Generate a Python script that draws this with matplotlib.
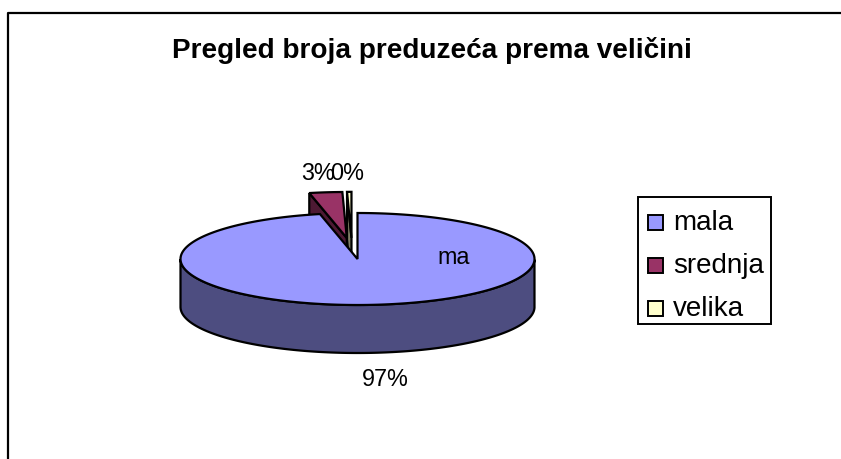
import numpy as np
import matplotlib
matplotlib.use('Agg')
import matplotlib.pyplot as plt
from matplotlib.patches import Polygon, Rectangle

plt.rcParams['font.family'] = ['Liberation Sans', 'DejaVu Sans']

categories = ['mala', 'srednja', 'velika']
shares = [96.6, 3.0, 0.4]
pct_labels = ['97%', '3%', '0%']
title = 'Pregled broja preduzeća prema veličini'

top_colors = ['#9999FF', '#993366', '#FFFFCC']
side_colors = ['#4D4D80', '#4D1933', '#808066']

# pie geometry, in pixels
cx, cy = 357.5, 259
rx, ry = 177, 46
depth = 48
explode = [0, 0.46, 0.46]
nudge = [0, -1, -5]

fig = plt.figure(figsize=(8.41, 4.59), dpi=100)
ax = fig.add_axes([0, 0, 1, 1])
ax.set_xlim(0, 841)
ax.set_ylim(459, 0)
ax.axis('off')


def pt(deg):
    a = np.radians(deg)
    return cx + rx * np.sin(a), cy - ry * np.cos(a)


def draw_slice(start, end, off, shift, top, side, z):
    mid = np.radians((start + end) / 2)
    ox = rx * off * np.sin(mid) + shift
    oy = -ry * off * np.cos(mid)
    angs = np.linspace(start, end, 300)
    arc = np.array([pt(a) for a in angs]) + [ox, oy]
    apex = np.array([cx + ox, cy + oy])
    down = np.array([0, depth])
    lw = 1.6
    # cut face on the start side, seen only on pulled out slices
    if off > 0:
        face = [apex, arc[0], arc[0] + down, apex + down]
        ax.add_patch(Polygon(face, fc=side, ec='black', lw=lw, zorder=z))
    # outer rim, lower half of the ellipse
    low = [pt(a) for a in angs if 90 <= a <= 270]
    if low:
        vis = np.array(low) + [ox, oy]
        rim = np.vstack([vis, (vis + down)[::-1]])
        ax.add_patch(Polygon(rim, fc=side, ec='black', lw=lw, zorder=z))
    ax.add_patch(Polygon(np.vstack([apex, arc]), fc=top, ec='black', lw=lw,
                         joinstyle='miter', zorder=z + 0.5))


# slices run clockwise from 12 o'clock, mala first
total = sum(shares)
mala_end = 360 * shares[0] / total
srednja_end = mala_end + 360 * shares[1] / total
draw_slice(mala_end, srednja_end, explode[1], nudge[1], top_colors[1], side_colors[1], 2)
draw_slice(srednja_end, 360, explode[2], nudge[2], top_colors[2], side_colors[2], 3)
# mala goes on top, it hides the lower part of the pulled out slices
draw_slice(0, mala_end, explode[0], nudge[0], top_colors[0], side_colors[0], 5)

# chart frame, only left and top are inside the picture
ax.plot([8, 8, 841], [459, 12.5, 12.5], color='black', lw=1.6, zorder=1)

ax.text(431.5, 50.5, title, ha='center', va='center', fontsize=20.1, fontweight='bold', zorder=8)
ax.text(453.5, 258, categories[0][:2], ha='center', va='center', fontsize=16.8, zorder=8)
ax.text(385, 379, pct_labels[0], ha='center', va='center', fontsize=16.8, zorder=8)
ax.text(318, 174, pct_labels[1], ha='center', va='center', fontsize=16.8, zorder=8)
ax.text(347.5, 174, pct_labels[2], ha='center', va='center', fontsize=16.8, zorder=8)

# legend
ax.add_patch(Rectangle((638, 197), 133, 127, fc='white', ec='black', lw=1.4, zorder=6))
for i, name in enumerate(categories):
    y = 222 + i * 43
    ax.add_patch(Rectangle((648.5, y - 7.5), 15, 15, fc=top_colors[i], ec='black', lw=1.4, zorder=7))
    ax.text(673, y + 1, name, ha='left', va='center', fontsize=20, zorder=8)

fig.savefig('out.png', dpi=100)
